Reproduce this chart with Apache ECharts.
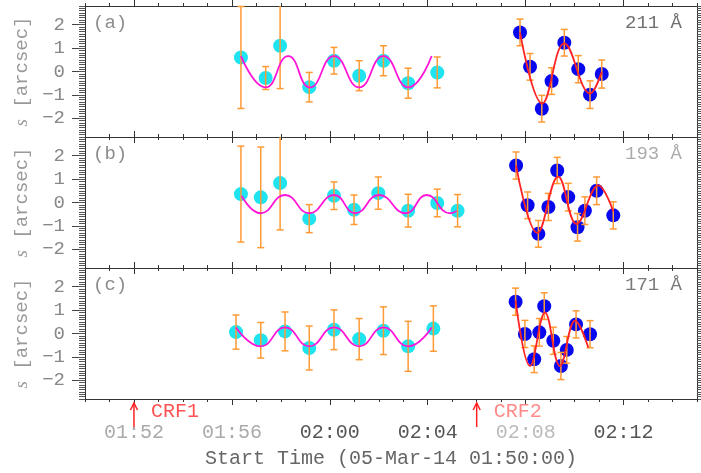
<!DOCTYPE html>
<html><head><meta charset="utf-8">
<script src="https://cdn.jsdelivr.net/npm/echarts@6/dist/echarts.min.js"></script>
<style>html,body{margin:0;padding:0;background:#fff}#c{width:701px;height:473px}</style>
</head><body><div id="c"></div>
<script>
// ---------- data (time in minutes after 01:50:00) ----------
const xTickVals = [2, 6, 10, 14, 18, 22];
const xTickLabels = ['01:52', '01:56', '02:00', '02:04', '02:08', '02:12'];
const yTickVals = [-2, -1, 0, 1, 2];
const panelLabels = ['(a)', '(b)', '(c)'];
const waveLabels = ['211 Å', '193 Å', '171 Å'];
const crfTimes = [2, 16];
const crfLabels = ['CRF1', 'CRF2'];

// panel (a) 211
const aCyanT = [6.37, 7.38, 7.97, 9.16, 10.17, 11.20, 12.19, 13.20, 14.39];
const aCyanV = [0.60, -0.28, 1.10, -0.67, 0.46, -0.18, 0.46, -0.50, -0.04];
const aCyanE = [2.18, 0.49, 1.83, 0.63, 0.57, 0.64, 0.64, 0.64, 0.66];
const aFitT = [6.37, 7.38, 8.30, 9.19, 10.17, 11.20, 12.19, 13.20, 14.16];
const aFitV = [0.66, -0.68, 0.66, -0.68, 0.66, -0.68, 0.66, -0.68, 0.66];
const aBlueT = [17.77, 18.18, 18.66, 19.06, 19.58, 20.15, 20.63, 21.11];
const aBlueV = [1.67, 0.20, -1.59, -0.41, 1.23, 0.10, -0.99, -0.11];
const aBlueE = [0.57, 0.57, 0.57, 0.57, 0.57, 0.58, 0.59, 0.60];
const aRedT = [17.77, 18.68, 19.58, 20.63, 21.11];
const aRedV = [1.67, -1.37, 1.20, -0.94, -0.01];

// panel (b) 193
const bCyanT = [6.37, 7.18, 7.97, 9.16, 10.17, 10.99, 11.98, 13.20, 14.39, 15.22];
const bCyanV = [0.36, 0.22, 0.83, -0.69, 0.29, -0.31, 0.40, -0.35, -0.02, -0.35];
const bCyanE = [2.05, 2.15, 2.00, 0.60, 0.59, 0.63, 0.69, 0.70, 0.59, 0.69];
const bFitT = [6.40, 7.18, 8.17, 9.16, 10.17, 11.04, 12.01, 13.10, 13.96, 14.91, 15.18];
const bFitV = [0.28, -0.46, 0.32, -0.46, 0.32, -0.46, 0.32, -0.46, 0.32, -0.46, -0.36];
const bBlueT = [17.61, 18.08, 18.52, 18.93, 19.29, 19.74, 20.12, 20.42, 20.90, 21.58];
const bBlueV = [1.58, -0.12, -1.34, -0.19, 1.37, 0.23, -1.06, -0.35, 0.50, -0.55];
const bBlueE = [0.58, 0.57, 0.57, 0.58, 0.56, 0.59, 0.59, 0.59, 0.59, 0.58];
const bRedT = [17.61, 18.48, 19.33, 20.08, 20.97, 21.58];
const bRedV = [1.58, -1.30, 1.11, -0.92, 0.73, -0.38];

// panel (c) 171
const cCyanT = [6.17, 7.18, 8.17, 9.16, 10.17, 11.20, 12.19, 13.20, 14.23];
const cCyanV = [0.06, -0.29, 0.09, -0.62, 0.16, -0.24, 0.12, -0.55, 0.21];
const cCyanE = [0.73, 0.76, 0.83, 0.94, 0.85, 0.88, 1.02, 1.07, 0.97];
const cFitT = [6.17, 7.18, 8.17, 9.16, 10.17, 11.20, 12.19, 13.20, 14.16];
const cFitV = [0.26, -0.55, 0.26, -0.55, 0.26, -0.55, 0.26, -0.55, 0.26];
const cBlueT = [17.59, 17.97, 18.35, 18.56, 18.76, 19.13, 19.44, 19.68, 20.06, 20.63];
const cBlueV = [1.36, -0.02, -1.10, 0.05, 1.17, -0.31, -1.39, -0.70, 0.39, -0.03];
const cBlueE = [0.58, 0.58, 0.57, 0.59, 0.57, 0.58, 0.58, 0.57, 0.58, 0.58];
const cRedT = [17.59, 18.18, 18.79, 19.40, 20.02, 20.56];
const cRedV = [1.42, -1.39, 0.89, -1.39, 0.55, -0.60];

// ---------- chart ----------
const FONT = '"Liberation Mono", "DejaVu Sans Mono", monospace';
const panels = [
  {cT:aCyanT, cV:aCyanV, cE:aCyanE, fT:aFitT, fV:aFitV, bT:aBlueT, bV:aBlueV, bE:aBlueE, rT:aRedT, rV:aRedV},
  {cT:bCyanT, cV:bCyanV, cE:bCyanE, fT:bFitT, fV:bFitV, bT:bBlueT, bV:bBlueV, bE:bBlueE, rT:bRedT, rV:bRedV},
  {cT:cCyanT, cV:cCyanV, cE:cCyanE, fT:cFitT, fV:cFitV, bT:cBlueT, bV:cBlueV, bE:cBlueE, rT:cRedT, rV:cRedV}
];
const tops = [6, 137, 268];
const PH = 131;
const waveColors = ['#707070', '#ababab', '#7a7a7a'];
const xLabColors = ['#aaaaaa', '#aaaaaa', '#555555', '#555555', '#bbbbbb', '#555555'];

const CYAN = '#1fe3ee', BLUE = '#0808ee', ORANGE = '#ff9a35', MAGENTA = '#ff14d8', RED = '#ff2424';
const AX = '#333333';

function errRender(color) {
  return function (params, api) {
    const x = api.value(0), lo = api.value(1), hi = api.value(2);
    const cs = params.coordSys;
    const pLo = api.coord([x, lo]), pHi = api.coord([x, hi]);
    const top = cs.y, bot = cs.y + cs.height;
    const yHi = Math.max(pHi[1], top), yLo = Math.min(pLo[1], bot);
    const w = 3.5, st = {stroke: color, lineWidth: 1.5};
    const ch = [{type: 'line', shape: {x1: pHi[0], y1: yHi, x2: pLo[0], y2: yLo}, style: st}];
    if (pHi[1] >= top) ch.push({type: 'line', shape: {x1: pHi[0] - w, y1: pHi[1], x2: pHi[0] + w, y2: pHi[1]}, style: st});
    if (pLo[1] <= bot) ch.push({type: 'line', shape: {x1: pLo[0] - w, y1: pLo[1], x2: pLo[0] + w, y2: pLo[1]}, style: st});
    return {type: 'group', children: ch};
  };
}
const zip2 = (t, v) => t.map((x, i) => [x, v[i]]);
const zipE = (t, v, e) => t.map((x, i) => [x, v[i] - e[i], v[i] + e[i]]);

const grids = [], xAxes = [], yAxes = [], series = [];
const richX = {};
xLabColors.forEach((c, i) => { richX['c' + i] = {color: c, fontFamily: FONT, fontSize: 20}; });

for (let p = 0; p < 3; p++) {
  const last = p === 2;
  grids.push({left: 85, width: 612, top: tops[p], height: PH});
  ['bottom', 'top'].forEach(pos => {
    xAxes.push({gridIndex: p, type: 'value', position: pos, min: 0, max: 25, interval: 1,
      axisLine: {show: true, onZero: false, lineStyle: {color: AX, width: 1}},
      axisTick: {show: true, inside: false, length: 3, lineStyle: {color: AX}},
      axisLabel: {show: false}, splitLine: {show: false}});
    const major = {gridIndex: p, type: 'value', position: pos, min: 0, max: 25,
      axisLine: {show: false, onZero: false},
      axisTick: {show: true, inside: false, length: 6, customValues: xTickVals, lineStyle: {color: AX}},
      axisLabel: {show: false}, splitLine: {show: false}};
    if (last && pos === 'bottom') {
      major.axisLabel = {show: true, customValues: xTickVals, margin: 24, fontFamily: FONT, fontSize: 20,
        formatter: v => { const i = xTickVals.indexOf(v); return '{c' + i + '|' + xTickLabels[i] + '}'; },
        rich: richX};
      major.name = 'Start Time (05-Mar-14 01:50:00)';
      major.nameLocation = 'middle';
      major.nameGap = 50;
      major.nameTextStyle = {fontFamily: FONT, fontSize: 20, color: '#666666'};
    }
    xAxes.push(major);
  });
  ['left', 'right'].forEach(pos => {
    const major = {gridIndex: p, type: 'value', position: pos, min: -2.8, max: 2.8,
      axisLine: {show: true, onZero: false, lineStyle: {color: AX, width: 1}},
      axisTick: {show: true, inside: false, length: 13, customValues: yTickVals, lineStyle: {color: '#444'}},
      axisLabel: {show: false}, splitLine: {show: false}};
    if (pos === 'left') {
      major.axisLabel = {show: true, customValues: yTickVals, margin: 20, color: '#888888',
        fontFamily: FONT, fontSize: 19, formatter: v => (v < 0 ? '\u2212' + Math.abs(v) : String(v))};
      major.name = '{it|s} [arcsec]';
      major.nameLocation = 'middle';
      major.nameRotate = 90;
      major.nameGap = 52;
      major.nameTextStyle = {color: '#999999', fontFamily: FONT, fontSize: 19,
        rich: {it: {fontStyle: 'italic', fontFamily: '"Liberation Serif", serif', fontSize: 19, color: '#999999'}}};
    }
    yAxes.push(major);
    yAxes.push({gridIndex: p, type: 'value', position: pos, min: -2.8, max: 2.8, interval: 0.1,
      axisLine: {show: false, onZero: false},
      axisTick: {show: true, inside: false, length: 6, lineStyle: {color: '#555', width: 1}},
      axisLabel: {show: false}, splitLine: {show: false}});
  });

  const xi = 4 * p, yi = 4 * p, d = panels[p];
  series.push({type: 'scatter', xAxisIndex: xi, yAxisIndex: yi, symbolSize: 14, z: 2,
    itemStyle: {color: CYAN, opacity: 1}, data: zip2(d.cT, d.cV)});
  series.push({type: 'scatter', xAxisIndex: xi, yAxisIndex: yi, symbolSize: 14, z: 2,
    itemStyle: {color: BLUE, opacity: 1}, data: zip2(d.bT, d.bV)});
  series.push({type: 'custom', xAxisIndex: xi, yAxisIndex: yi, z: 3, renderItem: errRender(ORANGE),
    data: zipE(d.cT, d.cV, d.cE)});
  series.push({type: 'custom', xAxisIndex: xi, yAxisIndex: yi, z: 3, renderItem: errRender(ORANGE),
    data: zipE(d.bT, d.bV, d.bE)});
  series.push({type: 'line', xAxisIndex: xi, yAxisIndex: yi, z: 4, smooth: 0.5, showSymbol: false,
    lineStyle: {color: MAGENTA, width: 1.8}, data: zip2(d.fT, d.fV)});
  series.push({type: 'line', xAxisIndex: xi, yAxisIndex: yi, z: 4, smooth: 0.4, showSymbol: false,
    lineStyle: {color: RED, width: 1.8}, data: zip2(d.rT, d.rV)});
}

const chart = echarts.init(document.getElementById('c'), null, {renderer: 'canvas'});
chart.setOption({animation: false, backgroundColor: '#ffffff', grid: grids, xAxis: xAxes, yAxis: yAxes, series: series});

const g = [];
for (let p = 0; p < 3; p++) {
  g.push({type: 'text', left: 93, top: tops[p] + 7, z: 10,
    style: {text: panelLabels[p], fill: '#8c8c8c', fontFamily: FONT, fontSize: 19}});
  g.push({type: 'text', right: 19, top: tops[p] + 7, z: 10,
    style: {text: waveLabels[p], fill: waveColors[p], fontFamily: FONT, fontSize: 19}});
}
const crfColors = ['#ff5252', '#ff8a8a'];
crfTimes.forEach((t, i) => {
  const px = chart.convertToPixel({xAxisIndex: 8}, t);
  g.push({type: 'line', z: 10, shape: {x1: px, y1: 427, x2: px, y2: 403}, style: {stroke: '#ff2020', lineWidth: 1.5}});
  g.push({type: 'polyline', z: 10, shape: {points: [[px - 3.5, 410], [px, 403], [px + 3.5, 410]]},
    style: {stroke: '#ff2020', lineWidth: 1.5, fill: null}});
  g.push({type: 'text', z: 10, x: px + 17, y: 402,
    style: {text: crfLabels[i], fill: crfColors[i], fontFamily: FONT, fontSize: 20}});
});
chart.setOption({graphic: g});
</script>
</body></html>
